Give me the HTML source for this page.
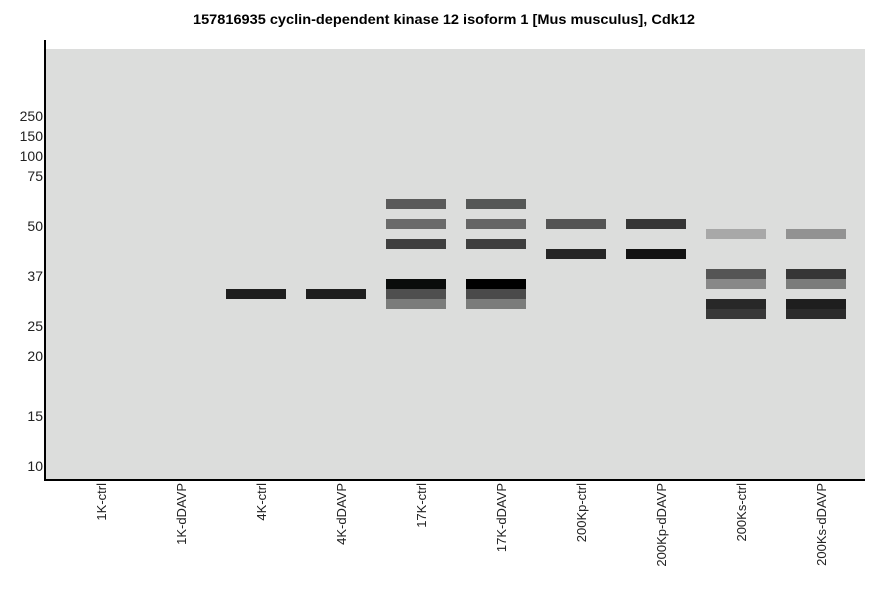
<!DOCTYPE html>
<html><head><meta charset="utf-8"><style>body{margin:0;background:#fff}svg{display:block}</style></head><body>
<svg width="886" height="595" xmlns="http://www.w3.org/2000/svg" font-family="Liberation Sans, sans-serif">
<text x="193" y="24" font-size="13.5" font-weight="bold" textLength="502" lengthAdjust="spacingAndGlyphs">157816935 cyclin-dependent kinase 12 isoform 1 [Mus musculus], Cdk12</text>
<rect x="46" y="49" width="819" height="430" fill="#dcdddc"/>
<line x1="45" y1="40" x2="45" y2="480" stroke="#000" stroke-width="2"/>
<line x1="44" y1="480" x2="865" y2="480" stroke="#000" stroke-width="2"/>
<g font-size="14" text-anchor="end" fill="#222">
<text x="43" y="121">250</text><text x="43" y="141">150</text><text x="43" y="161">100</text><text x="43" y="181">75</text><text x="43" y="231">50</text><text x="43" y="281">37</text><text x="43" y="331">25</text><text x="43" y="361">20</text><text x="43" y="421">15</text><text x="43" y="471">10</text>
</g>
<g>
<rect x="226" y="289" width="60" height="10" fill="#1e1e1e"/>
<rect x="306" y="289" width="60" height="10" fill="#1e1e1e"/>
<rect x="386" y="199" width="60" height="10" fill="#5a5a5a"/>
<rect x="386" y="219" width="60" height="10" fill="#6a6a6a"/>
<rect x="386" y="239" width="60" height="10" fill="#3f3f3f"/>
<rect x="386" y="279" width="60" height="10" fill="#0a0c0b"/>
<rect x="386" y="289" width="60" height="10" fill="#4f4f4f"/>
<rect x="386" y="299" width="60" height="10" fill="#7b7c7b"/>
<rect x="466" y="199" width="60" height="10" fill="#555756"/>
<rect x="466" y="219" width="60" height="10" fill="#656565"/>
<rect x="466" y="239" width="60" height="10" fill="#3e3e3e"/>
<rect x="466" y="279" width="60" height="10" fill="#000"/>
<rect x="466" y="289" width="60" height="10" fill="#4a4a4a"/>
<rect x="466" y="299" width="60" height="10" fill="#7b7c7b"/>
<rect x="546" y="219" width="60" height="10" fill="#545454"/>
<rect x="546" y="249" width="60" height="10" fill="#252525"/>
<rect x="626" y="219" width="60" height="10" fill="#353535"/>
<rect x="626" y="249" width="60" height="10" fill="#121212"/>
<rect x="706" y="229" width="60" height="10" fill="#a8a8a8"/>
<rect x="706" y="269" width="60" height="10" fill="#555"/>
<rect x="706" y="279" width="60" height="10" fill="#888"/>
<rect x="706" y="299" width="60" height="10" fill="#282828"/>
<rect x="706" y="309" width="60" height="10" fill="#383838"/>
<rect x="786" y="229" width="60" height="10" fill="#929292"/>
<rect x="786" y="269" width="60" height="10" fill="#363636"/>
<rect x="786" y="279" width="60" height="10" fill="#7b7c7b"/>
<rect x="786" y="299" width="60" height="10" fill="#1e1e1e"/>
<rect x="786" y="309" width="60" height="10" fill="#2b2b2b"/>
</g>
<g font-size="13" text-anchor="end" fill="#222">
<text transform="translate(106,483) rotate(-90)">1K-ctrl</text>
<text transform="translate(186,483) rotate(-90)">1K-dDAVP</text>
<text transform="translate(266,483) rotate(-90)">4K-ctrl</text>
<text transform="translate(346,483) rotate(-90)">4K-dDAVP</text>
<text transform="translate(426,483) rotate(-90)">17K-ctrl</text>
<text transform="translate(506,483) rotate(-90)">17K-dDAVP</text>
<text transform="translate(586,483) rotate(-90)">200Kp-ctrl</text>
<text transform="translate(666,483) rotate(-90)">200Kp-dDAVP</text>
<text transform="translate(746,483) rotate(-90)">200Ks-ctrl</text>
<text transform="translate(826,483) rotate(-90)">200Ks-dDAVP</text>
</g>
</svg>
</body></html>
